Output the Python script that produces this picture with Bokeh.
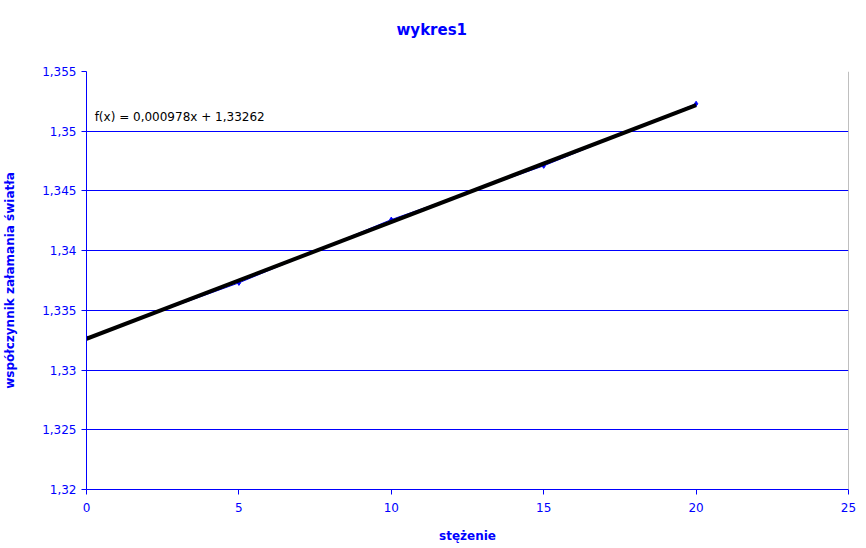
from bokeh.plotting import figure
from bokeh.models import FixedTicker, Label, Span, Range1d, Title
from bokeh.embed import file_html
from bokeh.resources import INLINE

# data
stezenie = [0, 5, 10, 15, 20]
wspolczynnik = [1.3327, 1.3373, 1.3426, 1.3471, 1.3523]
SLOPE = 0.000978
INTERCEPT = 1.33262
trend_label = "f(x) = 0,000978x + 1,33262"
title_text = "wykres1"

x_ticks = [0, 5, 10, 15, 20, 25]
y_ticks = [1.32, 1.325, 1.33, 1.335, 1.34, 1.345, 1.35, 1.355]
y_tick_labels = ["1,32", "1,325", "1,33", "1,335", "1,34", "1,345", "1,35", "1,355"]

BLUE = "#0000ff"
FONT = "DejaVu Sans"

p = figure(frame_width=762, frame_height=418, output_backend="svg", toolbar_location=None,
           x_range=Range1d(0, 25), y_range=Range1d(1.32, 1.355),
           min_border_left=78, min_border_right=10, min_border_top=71, min_border_bottom=55)
p.outline_line_color = None
p.background_fill_color = "white"

# main title (farthest from frame)
p.title.text = title_text
p.title.align = "left"
p.title.offset = 310
p.title.text_color = BLUE
p.title.text_font = FONT
p.title.text_font_size = "15px"
p.title.text_font_style = "bold"
p.title.standoff = 0

# spacer between title and frame
spacer = Title(text=" ", text_font_size="1px", standoff=30)
p.add_layout(spacer, "above")

p.xaxis.ticker = FixedTicker(ticks=x_ticks)
p.yaxis.ticker = FixedTicker(ticks=y_ticks)
p.yaxis.major_label_overrides = dict(zip(y_ticks, y_tick_labels))

for ax in (p.xaxis, p.yaxis):
    ax.axis_line_color = BLUE
    ax.major_tick_line_color = BLUE
    ax.minor_tick_line_color = None
    ax.major_tick_out = 5
    ax.major_tick_in = 0
    ax.major_label_text_color = BLUE
    ax.major_label_text_font = FONT
    ax.major_label_text_font_size = "12px"
    ax.axis_label_text_color = BLUE
    ax.axis_label_text_font = FONT
    ax.axis_label_text_font_size = "12px"
    ax.axis_label_text_font_style = "bold"

p.xaxis.axis_label = "stężenie"
p.xaxis.major_label_standoff = 8
p.xaxis.axis_label_standoff = 14
p.yaxis.axis_label = "współczynnik załamania światła"
p.yaxis.major_label_standoff = 5
p.yaxis.axis_label_standoff = 22

p.xgrid.grid_line_color = None
p.ygrid.grid_line_color = BLUE
p.ygrid.grid_line_alpha = 1.0

p.add_layout(Span(location=25, dimension="height", line_color="#808080", line_width=1))

# data series
p.line(stezenie, wspolczynnik, line_color=BLUE, line_width=1)
p.scatter(stezenie, wspolczynnik, marker="diamond", size=5, fill_color=BLUE, line_color=BLUE)

# trend line
tx = [stezenie[0], stezenie[-1]]
ty = [SLOPE * x + INTERCEPT for x in tx]
p.line(tx, ty, line_color="black", line_width=4)

lab = Label(x=0.07, y=1.3512, text=trend_label, text_font=FONT, text_font_size="12px",
            text_color="black", text_baseline="middle",
            background_fill_color="white", padding=6)
p.add_layout(lab)

open("out.html", "w").write(file_html(p, INLINE))
